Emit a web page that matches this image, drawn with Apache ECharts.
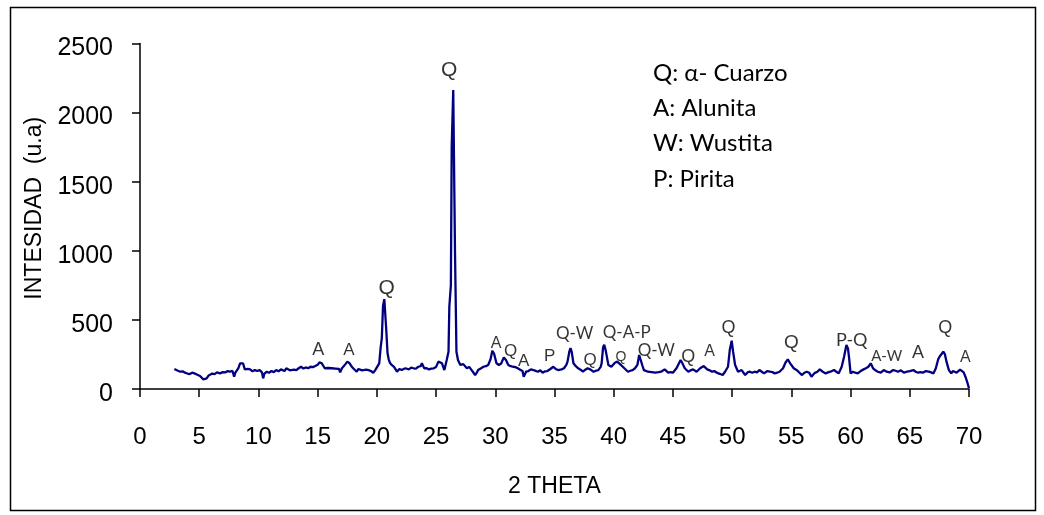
<!DOCTYPE html>
<html>
<head>
<meta charset="utf-8">
<title>Difractograma DRX</title>
<script src="https://cdn.jsdelivr.net/npm/echarts@6/dist/echarts.min.js"></script>
<style>
  html, body { margin: 0; padding: 0; background: #fff; }
  #chart { width: 1044px; height: 515px; }
</style>
</head>
<body>
<div id="chart"></div>
<script>
// Difractograma: ángulo 2θ (grados) e intensidad (u.a)
const twoTheta = [
  2.9, 3.2, 3.4, 3.6, 3.8, 4.0, 4.2, 4.4, 4.6, 4.8, 5.07, 5.2, 5.35, 5.5, 5.63, 5.8, 5.9,
  6.1, 6.3, 6.5, 6.75, 7.0, 7.2, 7.4, 7.6, 7.8, 7.95, 8.05, 8.3, 8.45, 8.7, 8.85, 9.1, 9.3,
  9.5, 9.7, 9.9, 10.1, 10.3, 10.4, 10.5, 10.7, 10.9, 11.1, 11.3, 11.5, 11.7, 11.9, 12.2,
  12.35, 12.5, 12.65, 12.8, 13.0, 13.2, 13.4, 13.6, 13.8, 14.0, 14.2, 14.4, 14.6, 14.8,
  15.0, 15.15, 15.35, 15.6, 15.9, 16.2, 16.5, 16.8, 16.9, 17.05, 17.2, 17.35, 17.5, 17.7,
  17.85, 18.0, 18.15, 18.3, 18.45, 18.6, 18.75, 18.9, 19.1, 19.3, 19.5, 19.7, 19.85, 20.0,
  20.2, 20.32, 20.42, 20.52, 20.63, 20.72, 20.8, 20.9, 21.0, 21.1, 21.25, 21.45, 21.7,
  21.9, 22.1, 22.4, 22.7, 22.9, 23.1, 23.3, 23.5, 23.7, 23.8, 24.0, 24.2, 24.4, 24.6, 24.8,
  25.0, 25.2, 25.35, 25.5, 25.7, 25.9, 26.05, 26.12, 26.25, 26.32, 26.45, 26.53, 26.6,
  26.72, 26.85, 27.05, 27.3, 27.6, 27.8, 28.0, 28.15, 28.3, 28.45, 28.55, 28.8, 29.0, 29.2,
  29.4, 29.6, 29.75, 29.9, 30.1, 30.3, 30.5, 30.72, 30.9, 31.1, 31.3, 31.5, 31.7, 31.9,
  32.1, 32.3, 32.4, 32.6, 32.8, 33.0, 33.3, 33.6, 33.8, 34.0, 34.2, 34.4, 34.65, 34.9,
  35.1, 35.3, 35.6, 35.8, 36.0, 36.1, 36.25, 36.35, 36.45, 36.6, 36.8, 37.0, 37.2, 37.4,
  37.6, 37.8, 38.05, 38.3, 38.5, 38.7, 38.9, 38.98, 39.1, 39.2, 39.32, 39.42, 39.55, 39.8,
  40.1, 40.3, 40.45, 40.6, 40.9, 41.05, 41.2, 41.4, 41.6, 41.8, 42.0, 42.15, 42.3, 42.42,
  42.55, 42.9, 43.2, 43.5, 43.8, 44.0, 44.3, 44.6, 44.8, 45.0, 45.3, 45.5, 45.65, 45.8,
  46.0, 46.3, 46.5, 46.7, 47.0, 47.3, 47.6, 47.9, 48.1, 48.3, 48.5, 48.7, 48.95, 49.2,
  49.4, 49.65, 49.8, 49.96, 50.08, 50.25, 50.5, 50.8, 51.1, 51.3, 51.5, 51.7, 51.9, 52.1,
  52.3, 52.5, 52.7, 52.95, 53.2, 53.4, 53.6, 53.8, 54.0, 54.3, 54.5, 54.7, 54.9, 55.2,
  55.4, 55.6, 55.9, 56.1, 56.3, 56.5, 56.7, 56.95, 57.2, 57.4, 57.65, 57.9, 58.1, 58.3,
  58.6, 58.8, 59.0, 59.25, 59.45, 59.65, 59.78, 59.88, 60.0, 60.2, 60.4, 60.6, 60.85,
  61.1, 61.3, 61.5, 61.7, 61.9, 62.1, 62.3, 62.55, 62.8, 63.05, 63.3, 63.6, 63.8, 64.0,
  64.25, 64.5, 64.75, 65.0, 65.3, 65.5, 65.7, 65.9, 66.1, 66.35, 66.6, 66.8, 67.0, 67.2,
  67.4, 67.55, 67.7, 67.83, 67.97, 68.1, 68.3, 68.5, 68.65, 68.8, 68.95, 69.1, 69.25,
  69.4, 69.55, 69.7, 69.85, 70.0
];
const intensity = [
  145, 132, 125, 128, 118, 112, 108, 118, 113, 105, 94, 100, 70, 82, 77, 98, 94,
  112, 108, 120, 113, 122, 120, 130, 125, 132, 89, 118, 149, 186, 186, 142, 145, 142,
  128, 137, 130, 137, 120, 77, 110, 125, 118, 130, 122, 137, 128, 142, 130,
  150, 156, 135, 125, 140, 137, 150, 161, 148, 156, 150, 161, 158, 166,
  175, 193, 186, 150, 152, 150, 148, 145, 120, 150, 161, 180, 198, 186,
  165, 150, 160, 125, 145, 150, 135, 125, 140, 137, 130, 118, 135, 137,
  186, 300, 370, 600, 650, 640, 420, 260, 215, 190, 174, 160, 125,
  145, 137, 150, 142, 155, 150, 148, 161, 165, 186, 150, 150, 142, 148, 150,
  160, 198, 190, 186, 137, 210, 270, 595, 752, 1753, 2163, 2163, 984,
  270, 210, 174, 180, 150, 160, 137, 145, 101, 120, 137, 150, 161, 165,
  174, 215, 277, 255, 186, 174, 185, 229, 210, 174, 165, 161, 158, 150,
  140, 130, 89, 125, 130, 142, 135, 125, 135, 118, 128, 130, 145, 161,
  145, 137, 142, 150, 175, 198, 270, 295, 270, 186, 165, 150, 140, 125,
  140, 150, 140, 125, 132, 137, 160, 186, 300, 320, 280, 234, 174, 161,
  190, 198, 185, 174, 150, 140, 125, 132, 137, 150, 174, 246, 240, 170,
  137, 125, 122, 118, 122, 125, 142, 118, 122, 118, 150, 185, 210, 186,
  150, 125, 135, 142, 125, 150, 166, 142, 135, 125, 130, 118, 110, 101,
  125, 161, 282, 350, 270, 174, 125, 137, 101, 120, 125, 118, 125, 120,
  137, 125, 113, 130, 125, 122, 113, 118, 125, 150, 190, 215, 186, 150,
  140, 125, 101, 118, 125, 118, 89, 115, 125, 142, 125, 113, 120, 125,
  137, 125, 113, 161, 234, 318, 294, 222, 113, 125, 118, 113, 130,
  142, 150, 161, 186, 150, 135, 125, 118, 137, 125, 120, 137, 132, 125,
  135, 118, 125, 130, 137, 125, 118, 122, 118, 130, 125, 120, 113, 150,
  215, 239, 255, 270, 250, 198, 137, 113, 130, 137, 118, 125, 140,
  130, 120, 89, 50, 5
];

// Identificación de fases sobre los picos
const peakText = ['A', 'A', 'Q', 'Q', 'A', 'Q', 'A', 'P', 'Q-W', 'Q', 'Q', 'Q-A-P',
  'Q-W', 'Q', 'A', 'Q', 'Q', 'P-Q', 'A-W', 'A', 'Q', 'A'];
const peakTheta = [15.05, 17.65, 20.83, 26.1, 30.06, 31.3, 32.4, 34.6, 36.7, 38.0, 40.6,
  41.1, 43.6, 46.3, 48.1, 49.7, 55.0, 60.1, 63.05, 65.7, 68.0, 69.7];
const peakLabelY = [282, 282, 729, 2308, 331, 270, 198, 239, 403, 205, 234, 407, 277, 234,
  270, 441, 335, 350, 239, 263, 441, 229];

// Leyenda de fases
const phaseKey = ['Q: α- Cuarzo', 'A: Alunita', 'W: Wustita', 'P: Pirita'];

// Ejes
const xTicks = { min: 0, max: 70, interval: 5 };
const yTicks = { min: 0, max: 2500, interval: 500 };

// ---- estilo ----
const peakFontSize = [18, 17, 21, 21, 16, 17, 17, 17, 17, 17, 14, 17, 17, 18, 16, 18, 19, 18, 15, 18, 18, 16];
const sansFont = '"Liberation Sans", Arial, sans-serif';
const calibriLike = 'Lato, "Open Sans", sans-serif';

const chart = echarts.init(document.getElementById('chart'), null, { renderer: 'canvas' });

const lineData = twoTheta.map((t, i) => [t, intensity[i]]);
const peakData = peakText.map((txt, i) => ({
  value: [peakTheta[i], peakLabelY[i]],
  label: {
    formatter: txt,
    fontSize: peakFontSize[i],
    fontFamily: txt.length > 1 ? calibriLike : sansFont
  }
}));

const axisLine = { lineStyle: { color: '#000', width: 1.5 } };
const axisTick = { show: true, inside: false, length: 8, lineStyle: { color: '#000', width: 1.5 } };

chart.setOption({
  animation: false,
  backgroundColor: '#fff',
  grid: { left: 140, right: 75, top: 43.5, bottom: 126, containLabel: false },
  xAxis: {
    type: 'value',
    min: xTicks.min, max: xTicks.max, interval: xTicks.interval,
    name: '2 THETA', nameLocation: 'middle', nameGap: 86,
    nameTextStyle: { fontFamily: sansFont, fontSize: 23, color: '#000' },
    axisLine, axisTick,
    axisLabel: { fontFamily: sansFont, fontSize: 24, color: '#000', margin: 36 },
    splitLine: { show: false }
  },
  yAxis: {
    type: 'value',
    min: yTicks.min, max: yTicks.max, interval: yTicks.interval,
    name: 'INTESIDAD  (u.a)', nameLocation: 'middle', nameGap: 79, nameRotate: 90,
    nameTextStyle: { fontFamily: sansFont, fontSize: 23, color: '#000', padding: [0, 0, 0, 16] },
    axisLine: { show: true, lineStyle: { color: '#000', width: 1.5 } }, axisTick,
    axisLabel: {
      fontFamily: sansFont, fontSize: 25, color: '#000', margin: 27,
      verticalAlign: 'top', lineHeight: 10,
      formatter: v => String(v)
    },
    splitLine: { show: false }
  },
  series: [
    {
      type: 'line',
      data: lineData,
      showSymbol: false,
      lineStyle: { color: '#000080', width: 2.3 },
      silent: true
    },
    {
      type: 'scatter',
      data: peakData,
      symbolSize: 0,
      silent: true,
      label: { show: true, position: 'inside', color: '#000' }
    }
  ],
  graphic: [
    {
      type: 'rect',
      shape: { x: 10.5, y: 7.5, width: 1025, height: 503 },
      style: { fill: 'none', stroke: '#000', lineWidth: 1.5 },
      z: -1
    }
  ].concat(phaseKey.map((txt, i) => ({
    type: 'text',
    x: 653,
    y: 73 + i * 35.3,
    style: {
      text: txt,
      font: '24px ' + calibriLike,
      fill: '#000',
      verticalAlign: 'middle',
      align: 'left'
    }
  })))
});
</script>
</body>
</html>
